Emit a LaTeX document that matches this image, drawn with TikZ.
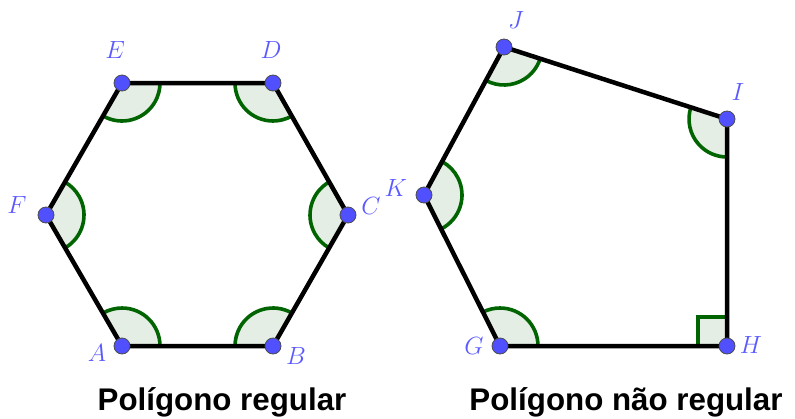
\documentclass[tikz,border=0pt]{standalone}
\usepackage{fontspec}
\setsansfont{Liberation Sans}
\usetikzlibrary{angles,calc}
\definecolor{ptblue}{RGB}{80,80,255}
\definecolor{lblblue}{RGB}{90,90,255}
\definecolor{arcgreen}{RGB}{0,100,0}
\definecolor{arcfill}{RGB}{228,238,228}
\begin{document}
\begin{tikzpicture}[x=1pt,y=-1pt,
  edge/.style={line width=4.5pt,line join=round},
  ang/.style={draw=arcgreen,fill=arcfill,line width=3.6pt,angle radius=38pt},
  pt/.style={circle,fill=ptblue,draw=black!70,line width=0.8pt,minimum size=16pt,inner sep=0pt},
  lbl/.style={text=lblblue,font=\fontsize{23}{23}\selectfont,inner sep=0pt},
  title/.style={font=\sffamily\bfseries\fontsize{31.3}{32}\selectfont,anchor=base}]
\useasboundingbox (0,0) rectangle (795,418);
% hexagon
\coordinate (A) at (122,346);
\coordinate (B) at (273,346);
\coordinate (C) at (348,215);
\coordinate (D) at (273,83);
\coordinate (E) at (122,83);
\coordinate (F) at (46,215);
% pentagon
\coordinate (G) at (500,346);
\coordinate (H) at (727,346);
\coordinate (I) at (727,119);
\coordinate (J) at (504,47);
\coordinate (K) at (424,195);
% angles
\pic[ang] {angle=B--A--F};
\pic[ang] {angle=C--B--A};
\pic[ang] {angle=D--C--B};
\pic[ang] {angle=E--D--C};
\pic[ang] {angle=F--E--D};
\pic[ang] {angle=A--F--E};
\pic[ang] {angle=H--G--K};
\pic[ang] {angle=J--I--H};
\pic[ang] {angle=K--J--I};
\pic[ang] {angle=G--K--J};
\fill[arcfill] ($(H)+(-29,0)$) rectangle ($(H)+(0,-29)$);
\draw[arcgreen,line width=3.6pt] ($(H)+(-29,0)$) -- ($(H)+(-29,-29)$) -- ($(H)+(0,-29)$);
% edges
\draw[edge] (A) -- (B) -- (C) -- (D) -- (E) -- (F) -- cycle;
\draw[edge] (G) -- (H) -- (I) -- (J) -- (K) -- cycle;
% points
\foreach \p in {A,B,C,D,E,F,G,H,I,J,K} \node[pt] (n\p) at (\p) {};
% labels
\node[lbl] (lE) at (115,50) {$E$};
\node[lbl] (lD) at (271,50) {$D$};
\node[lbl] (lF) at (17,205) {$F$};
\node[lbl] (lC) at (371,206) {$C$};
\node[lbl] (lA) at (97,353) {$A$};
\node[lbl] (lB) at (296,356) {$B$};
\node[lbl] (lJ) at (516,20) {$J$};
\node[lbl] (lI) at (738,92) {$I$};
\node[lbl] (lK) at (396,188) {$K$};
\node[lbl] (lG) at (474,346) {$G$};
\node[lbl] (lH) at (751,345) {$H$};
% titles
\node[title] (t1) at (222,410) {Polígono regular};
\node[title] (t2) at (626,410) {Polígono não regular};
\end{tikzpicture}
\end{document}
